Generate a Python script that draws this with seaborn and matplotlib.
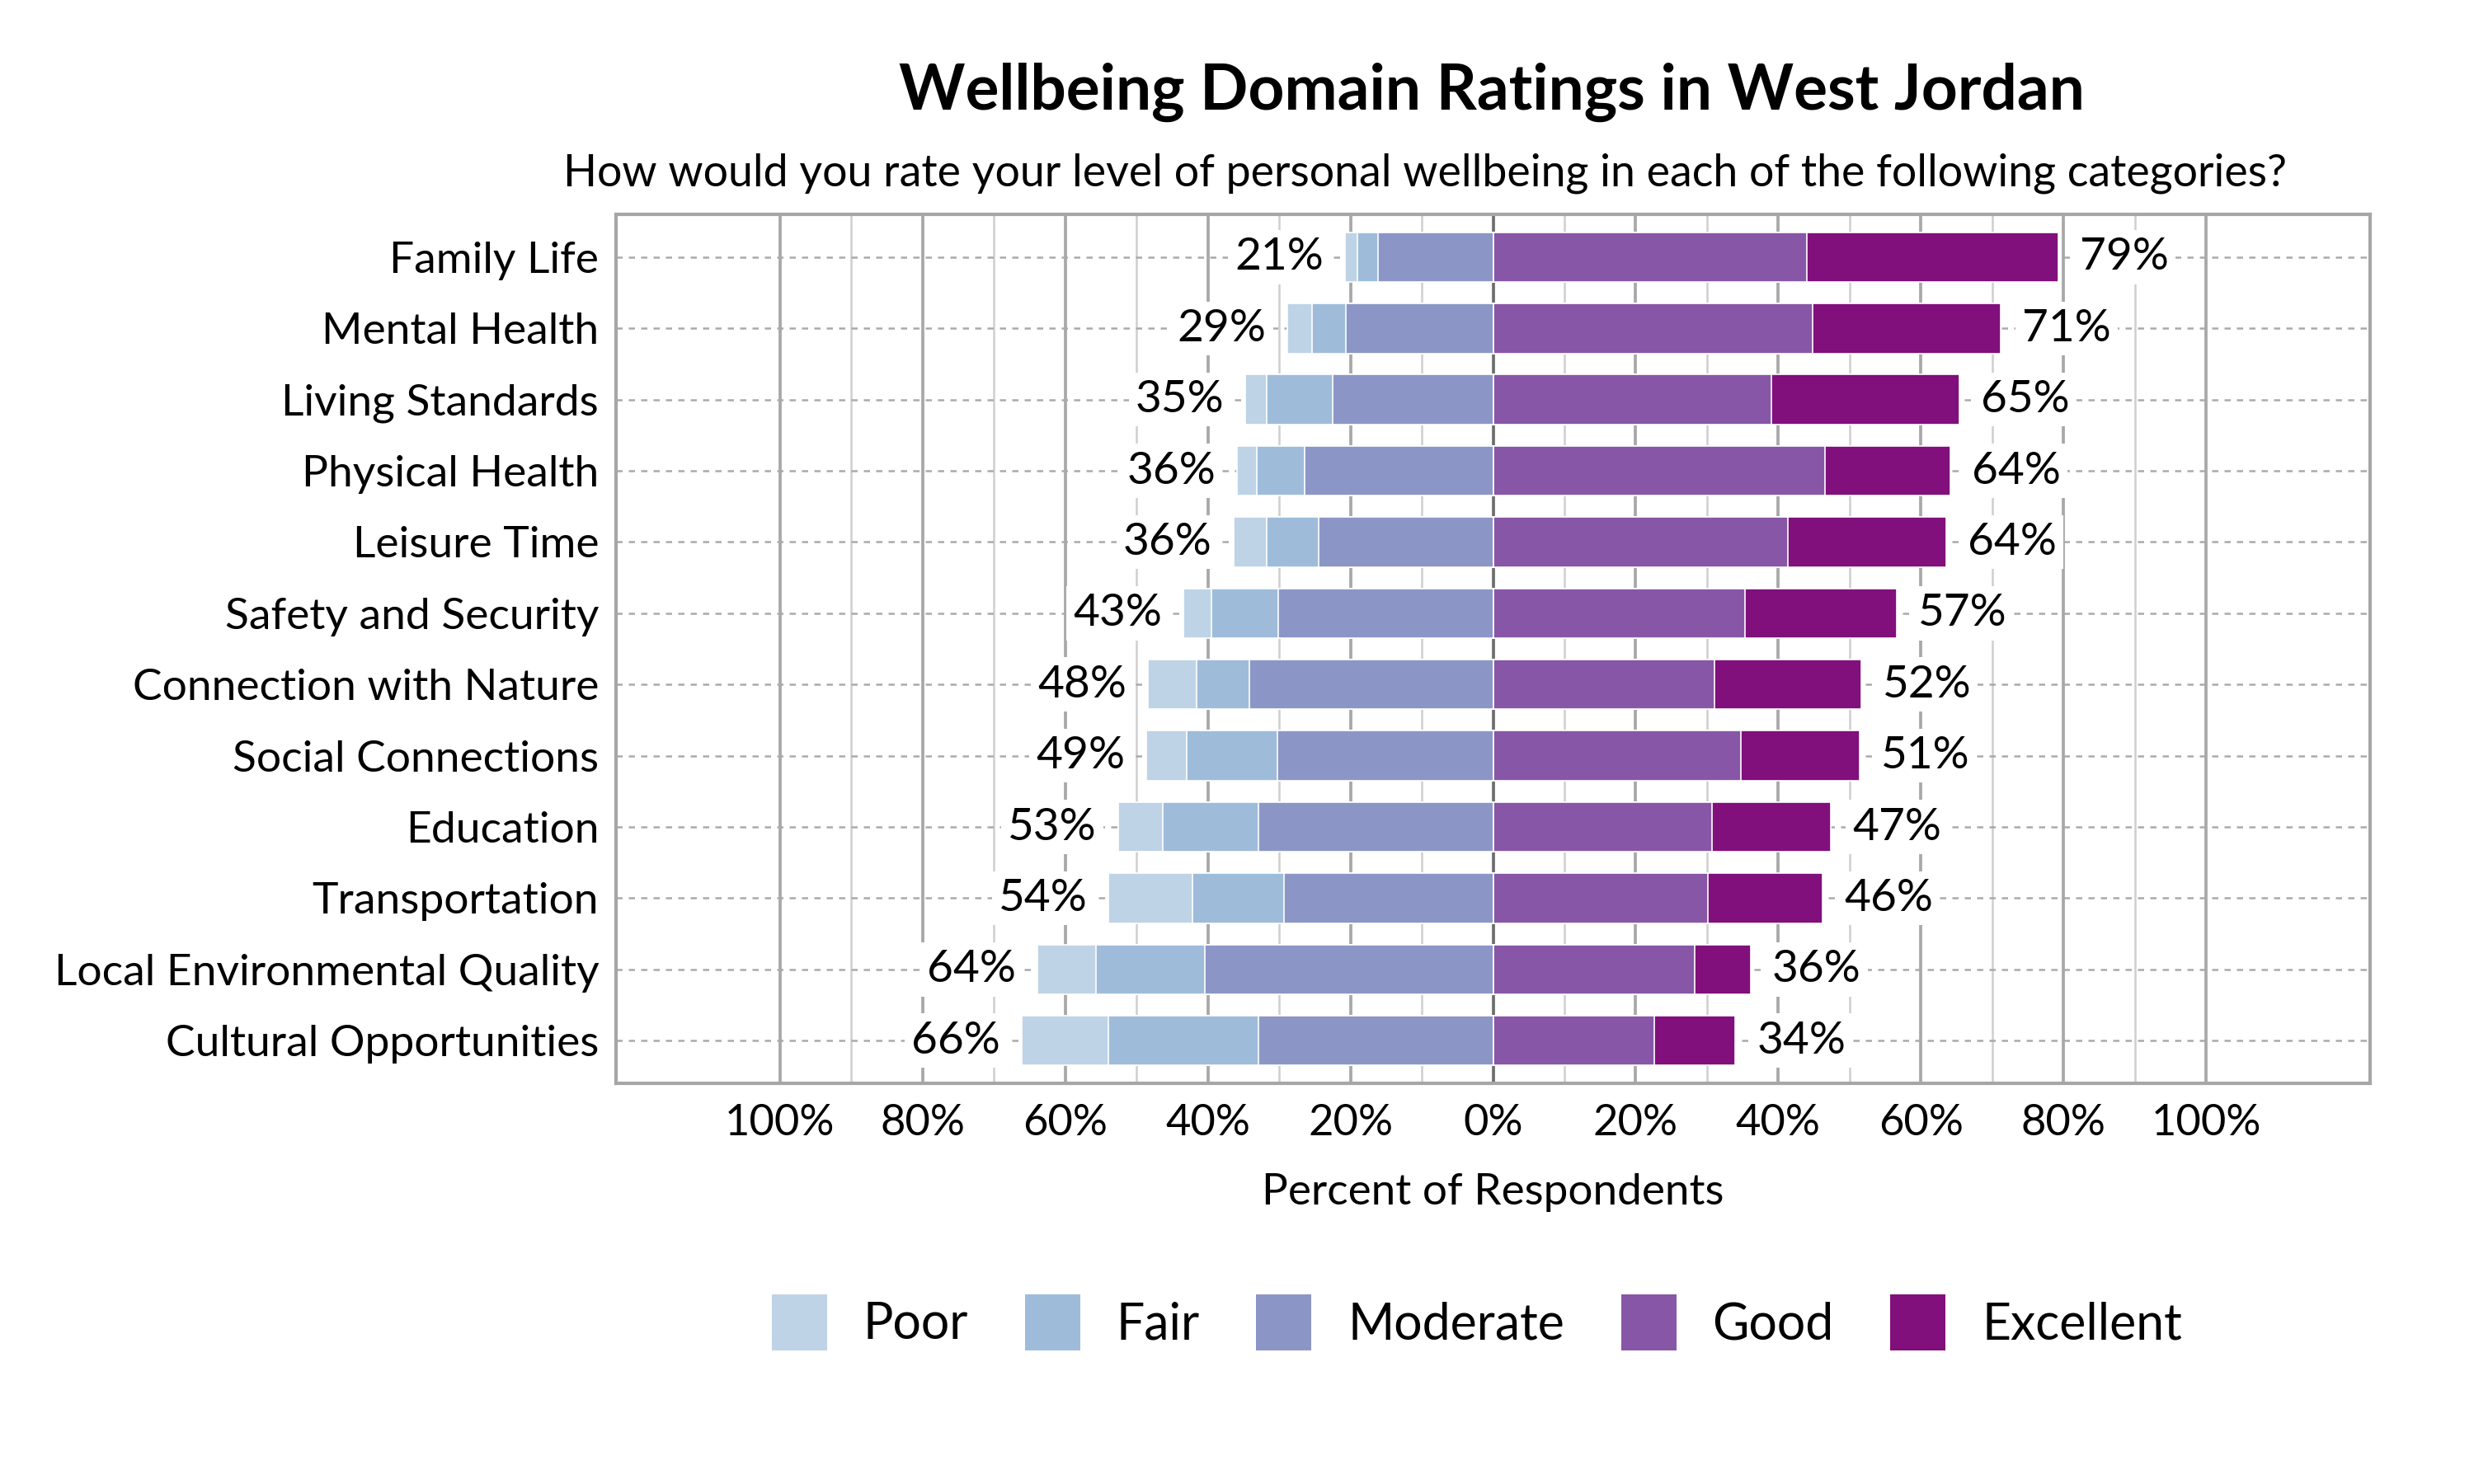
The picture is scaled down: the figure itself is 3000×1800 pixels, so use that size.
import numpy as np
import pandas as pd
import matplotlib
matplotlib.use("Agg")
import matplotlib.pyplot as plt
from matplotlib.patches import Patch
from matplotlib.ticker import FuncFormatter
import seaborn as sns

# datos (porcentaje de encuestados)
categorias = ["Family Life", "Mental Health", "Living Standards", "Physical Health",
              "Leisure Time", "Safety and Security", "Connection with Nature",
              "Social Connections", "Education", "Transportation",
              "Local Environmental Quality", "Cultural Opportunities"]
poor = [1.8, 3.4, 2.9, 2.8, 4.6, 3.9, 6.8, 5.6, 6.3, 11.8, 8.2, 12.1]
fair = [2.9, 4.7, 9.3, 6.7, 7.3, 9.4, 7.4, 12.8, 13.4, 12.8, 15.3, 21.1]
moderate = [16.1, 20.7, 22.5, 26.4, 24.5, 30.1, 34.2, 30.2, 32.9, 29.3, 40.4, 32.9]
good = [44.0, 44.8, 39.0, 46.5, 41.4, 35.3, 31.1, 34.7, 30.7, 30.1, 28.3, 22.6]
excellent = [35.3, 26.4, 26.4, 17.6, 22.2, 21.3, 20.5, 16.7, 16.7, 16.1, 7.8, 11.4]

niveles = ["Poor", "Fair", "Moderate", "Good", "Excellent"]
colores = ["#BFD3E6", "#9EBCDA", "#8C96C6", "#8856A7", "#810F7C"]

df = pd.DataFrame({"cat": categorias, "Poor": poor, "Fair": fair,
                   "Moderate": moderate, "Good": good, "Excellent": excellent})
df["neg_total"] = df["Poor"] + df["Fair"] + df["Moderate"]
df["pos_total"] = df["Good"] + df["Excellent"]

sns.set_style("white")
plt.rcParams["font.family"] = ["Lato", "DejaVu Sans"]
plt.rcParams["text.color"] = "black"
plt.rcParams["axes.labelcolor"] = "black"
plt.rcParams["xtick.labelcolor"] = "black"
plt.rcParams["ytick.labelcolor"] = "black"

fig = plt.figure(figsize=(10, 6), dpi=300)
ax = fig.add_axes([0.249, 0.270, 0.709, 0.5855])

# barras apiladas: se dibuja del tramo exterior al interior
capas = [
    (-(df["Poor"] + df["Fair"] + df["Moderate"]), colores[0]),
    (-(df["Fair"] + df["Moderate"]), colores[1]),
    (-df["Moderate"], colores[2]),
    (df["Good"] + df["Excellent"], colores[4]),
    (df["Good"], colores[3]),
]
for valores, color in capas:
    sns.barplot(x=valores, y=df["cat"], orient="h", color=color, width=0.7,
                edgecolor="white", linewidth=0.4, saturation=1, ax=ax, zorder=3)

# etiquetas de totales
for i, fila in df.iterrows():
    ax.text(-fila["neg_total"] - 3, i, f"{fila['neg_total']:.0f}%", ha="right", va="center",
            fontsize=13.2, zorder=4,
            bbox=dict(boxstyle="square,pad=0.15", fc="white", ec="none"))
    ax.text(fila["pos_total"] + 3, i, f"{fila['pos_total']:.0f}%", ha="left", va="center",
            fontsize=13.2, zorder=4,
            bbox=dict(boxstyle="square,pad=0.15", fc="white", ec="none"))

ax.set_xlim(-123, 123)
ax.set_ylim(len(categorias) - 0.4, -0.6)

# rejilla
for v in range(-100, 101, 10):
    if v == 0:
        ax.axvline(v, color="#6E6E6E", lw=0.9, zorder=1)
    elif v % 20 == 0:
        ax.axvline(v, color="#A8A8A8", lw=0.9, zorder=1)
    else:
        ax.axvline(v, color="#CFCFCF", lw=0.6, zorder=1)
for i in range(len(categorias)):
    ax.axhline(i, color="#AAAAAA", lw=0.6, ls=(0, (3, 3)), zorder=1)

ax.set_xticks(np.arange(-100, 101, 20))
ax.xaxis.set_major_formatter(FuncFormatter(lambda v, p: f"{abs(v):.0f}%"))
ax.tick_params(axis="x", length=3, width=0.8, color="#333333", pad=3, labelsize=12.6)
ax.tick_params(axis="y", length=0, pad=5, labelsize=12.8)
ax.set_ylabel("")
ax.set_xlabel("Percent of Respondents", fontsize=12.75, labelpad=9)

for s in ax.spines.values():
    s.set_visible(True)
    s.set_color("#A6A6A6")
    s.set_linewidth(1.0)

fig.text(0.603, 0.938, "Wellbeing Domain Ratings in West Jordan", ha="center", va="center",
         fontsize=18.4, fontweight="bold")
fig.text(0.576, 0.883, "How would you rate your level of personal wellbeing in each of the following categories?",
         ha="center", va="center", fontsize=12.9)

manejadores = [Patch(facecolor=c, edgecolor="none", label=n) for n, c in zip(niveles, colores)]
fig.legend(handles=manejadores, loc="center", bbox_to_anchor=(0.597, 0.109), ncol=5,
           frameon=False, fontsize=14.6, handlelength=1.1, handleheight=1.33,
           handletextpad=0.72, columnspacing=1.13)

plt.savefig("out.png", dpi=300)
